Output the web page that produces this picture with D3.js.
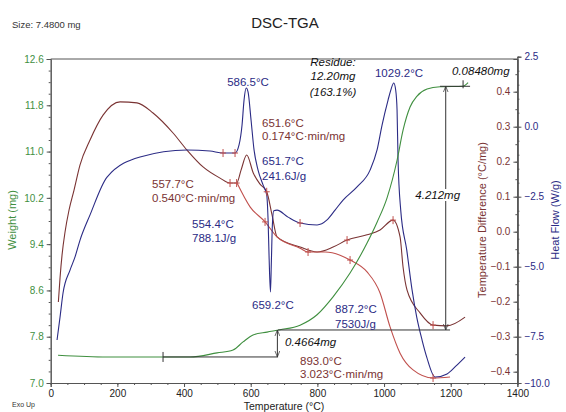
<!DOCTYPE html>
<html>
<head>
<meta charset="utf-8">
<script src="https://cdn.jsdelivr.net/npm/d3@7"></script>
<style>
  body { margin: 0; background: #fff; }
  svg { font-family: "Liberation Sans", Arial, sans-serif; }
</style>
</head>
<body>
<div id="chart"></div>
<script>
// curves: [temperature °C, value]
var weightCurve = [[22,7.48],[169,7.45],[337,7.45],[418,7.45],[499,7.52],[547,7.57],[577,7.71],[607,7.83],[649,7.88],[688,7.92],[748,8.00],[799,8.18],[847,8.49],[898,8.90],[949,9.42],[979,9.78],[1009,10.20],[1039,10.85],[1057,11.37],[1078,11.77],[1099,11.96],[1129,12.08],[1168,12.12],[1237,12.13],[1252,12.19]];

var heatFlowCurve = [[19,-7.68],[28,-6.8],[37,-5.94],[58,-5.12],[73,-4.65],[88,-4.05],[118,-3.15],[169,-1.8],[268,-1.08],[409,-0.83],[478,-0.87],[517,-0.94],[553,-0.94],[565,-0.65],[574,0.06],[580,0.95],[586.5,1.38],[592,1.24],[601,0.24],[610,-0.83],[622,-1.55],[637,-2.08],[648,-2.44],[652,-3.3],[655,-4.6],[659.2,-5.9],[662,-4.8],[665,-3.5],[669,-3.0],[679,-2.98],[712,-3.23],[748,-3.44],[799,-3.51],[829,-3.33],[853,-2.98],[877,-2.62],[919,-2.15],[958,-1.55],[979,-0.83],[994,0.06],[1012,0.95],[1020,1.3],[1029.2,1.56],[1035,1.3],[1039,0.6],[1042,-1.19],[1050,-2.98],[1068,-4.4],[1084,-5.83],[1098,-6.8],[1114,-7.68],[1128,-8.6],[1153,-9.68],[1189,-9.51],[1216,-9.08],[1243,-8.6]];

var tempDiffCurve = [[23,-0.201],[28,-0.132],[34,-0.067],[43,-0.001],[55,0.062],[70,0.119],[88,0.191],[118,0.262],[157,0.333],[208,0.371],[259,0.368],[307,0.339],[367,0.282],[409,0.233],[457,0.185],[508,0.153],[538,0.139],[557.7,0.139],[571,0.176],[588,0.219],[608,0.167],[628,0.136],[648,0.114],[664,0.048],[679,-0.015],[748,-0.044],[799,-0.058],[847,-0.044],[889,-0.024],[949,-0.009],[988,0.005],[1027,0.033],[1048,-0.015],[1057,-0.101],[1069,-0.167],[1108,-0.232],[1147,-0.267],[1189,-0.269],[1243,-0.244]];

var tempDiff2Curve = [[559,0.139],[598,0.071],[643,0.028],[679,-0.015],[748,-0.047],[772,-0.058],[823,-0.058],[868,-0.067],[898,-0.081],[949,-0.115],[988,-0.175],[1018,-0.272],[1048,-0.347],[1087,-0.395],[1147,-0.418],[1198,-0.415]];

// analysis markers (temperatures)
var hfMarks = [517, 553, 748];
var tdMarks = [538, 557.7, 648, 889, 1027, 1147];
var td2Marks = [643, 772, 898, 1147];

// weight step levels (mg)
var wLow = 7.450, wMid = 7.9164, wTop = 12.1284;

var tempTicks = [0, 200, 400, 600, 800, 1000, 1200, 1400];
var weightTicks = [7.0, 7.8, 8.6, 9.4, 10.2, 11.0, 11.8, 12.6];
var tdTicks = [-0.4, -0.3, -0.2, -0.1, 0.0, 0.1, 0.2, 0.3, 0.4];
var hfTicks = [-10.0, -7.5, -5.0, -2.5, 0.0, 2.5];

var W = 566, H = 412;
var pL = 50.7, pR = 517.4, pT = 59, pB = 383;

var green = "#3f8f3f", navy = "#2b2b85", maroon = "#7a3333", red = "#c0504d";

var svg = d3.select("#chart").append("svg")
    .attr("width", W).attr("height", H);

var x = d3.scaleLinear().domain([0, 1400]).range([pL, pR]);
var yW = d3.scaleLinear().domain([7.0, 12.6]).range([pB, pT]);
var yTD = d3.scaleLinear().domain([-0.4323, 0.4934]).range([pB, pT]);
var yHF = d3.scaleLinear().domain([-10, -7.5, 2.5]).range([pB, 336.7, 56.7]);

// frame
svg.append("line").attr("x1", pL).attr("x2", pR).attr("y1", pT).attr("y2", pT)
    .style("stroke", "#555").style("stroke-width", 1);

// axes
function minor(a, b, s) { return d3.range(a, b + s / 2, s); }

var xAxis = svg.append("g").attr("transform", "translate(0," + pB + ")")
    .call(d3.axisBottom(x).tickValues(tempTicks).tickSize(4).tickFormat(d3.format("d")));
svg.append("g").attr("transform", "translate(0," + pB + ")")
    .call(d3.axisBottom(x).tickValues(minor(0, 1400, 50)).tickSize(2).tickFormat(""));

var wAxis = svg.append("g").attr("transform", "translate(" + pL + ",0)")
    .call(d3.axisLeft(yW).tickValues(weightTicks).tickSize(4).tickFormat(d3.format(".1f")));
svg.append("g").attr("transform", "translate(" + pL + ",0)")
    .call(d3.axisLeft(yW).tickValues(minor(7.0, 12.6, 0.2)).tickSize(2).tickFormat(""));

var tdAxis = svg.append("g").attr("transform", "translate(" + pR + ",0)")
    .call(d3.axisLeft(yTD).tickValues(tdTicks).tickSize(4).tickFormat(d3.format(".1f")));
svg.append("g").attr("transform", "translate(" + pR + ",0)")
    .call(d3.axisLeft(yTD).tickValues(minor(-0.4, 0.45, 0.05)).tickSize(2).tickFormat(""));

var hfAxis = svg.append("g").attr("transform", "translate(" + pR + ",0)")
    .call(d3.axisRight(yHF).tickValues(hfTicks).tickSize(4).tickFormat(d3.format(".1f")));
svg.append("g").attr("transform", "translate(" + pR + ",0)")
    .call(d3.axisRight(yHF).tickValues(minor(-7.5, 2.5, 0.5)).tickSize(2).tickFormat(""));

svg.selectAll(".domain").style("stroke", "#555");
svg.selectAll(".tick line").style("stroke", "#555");
svg.selectAll(".tick text").style("font-size", "10px").style("font-family", "Liberation Sans, Arial, sans-serif");
xAxis.selectAll("text").style("fill", "#222");
wAxis.selectAll("text").style("fill", green);
tdAxis.selectAll("text").style("fill", maroon);
hfAxis.selectAll("text").style("fill", navy);

// curves
function draw(data, ys, color) {
    var line = d3.line().x(function(d) { return x(d[0]); }).y(function(d) { return ys(d[1]); })
        .curve(d3.curveMonotoneX);
    svg.append("path").datum(data).attr("d", line)
        .style("fill", "none").style("stroke", color).style("stroke-width", 1.1);
}
draw(tempDiffCurve, yTD, maroon);
draw(tempDiff2Curve, yTD, red);
draw(heatFlowCurve, yHF, navy);
draw(weightCurve, yW, green);

// markers
function valueAt(data, t) {
    for (var i = 1; i < data.length; i++) {
        if (data[i][0] >= t) {
            var a = data[i - 1], b = data[i];
            return a[1] + (b[1] - a[1]) * (t - a[0]) / (b[0] - a[0]);
        }
    }
    return data[data.length - 1][1];
}
function marks(data, ts, ys) {
    ts.forEach(function(t) {
        var px = x(t), py = ys(valueAt(data, t));
        svg.append("line").attr("x1", px).attr("x2", px).attr("y1", py - 4).attr("y2", py + 4)
            .style("stroke", red).style("stroke-width", 1);
        svg.append("line").attr("x1", px - 3).attr("x2", px + 3).attr("y1", py).attr("y2", py)
            .style("stroke", red).style("stroke-width", 1);
    });
}
marks(heatFlowCurve, hfMarks, yHF);
marks(tempDiffCurve, tdMarks, yTD);
marks(tempDiff2Curve, td2Marks, yTD);

// weight step annotation
var ink = "#333";
svg.append("line").attr("x1", x(337)).attr("x2", x(682)).attr("y1", yW(wLow)).attr("y2", yW(wLow)).style("stroke", ink);
svg.append("line").attr("x1", x(337)).attr("x2", x(337)).attr("y1", yW(wLow) - 5).attr("y2", yW(wLow) + 5).style("stroke", ink);
svg.append("line").attr("x1", x(682)).attr("x2", x(1198)).attr("y1", yW(wMid)).attr("y2", yW(wMid)).style("stroke", ink);
svg.append("line").attr("x1", x(1168)).attr("x2", x(1258)).attr("y1", yW(wTop)).attr("y2", yW(wTop)).style("stroke", ink);

var defs = svg.append("defs");
defs.append("marker").attr("id", "arr").attr("viewBox", "0 0 10 10").attr("refX", 10).attr("refY", 5)
    .attr("markerWidth", 6).attr("markerHeight", 6).attr("orient", "auto-start-reverse")
    .append("path").attr("d", "M0,1L10,5L0,9").style("fill", "none").style("stroke", ink).style("stroke-width", 1.2);

svg.append("line").attr("x1", x(680)).attr("x2", x(680)).attr("y1", yW(wLow)).attr("y2", yW(wMid))
    .style("stroke", ink).attr("marker-start", "url(#arr)").attr("marker-end", "url(#arr)");
svg.append("line").attr("x1", x(1185)).attr("x2", x(1185)).attr("y1", yW(wMid)).attr("y2", yW(wTop))
    .style("stroke", ink).attr("marker-start", "url(#arr)").attr("marker-end", "url(#arr)");
svg.append("line").attr("x1", x(1237)).attr("x2", x(1237)).attr("y1", yW(wTop) - 6).attr("y2", yW(wTop) + 2)
    .style("stroke", ink);

// texts
function txt(s, px, py, color, opts) {
    opts = opts || {};
    var t = svg.append("text").attr("x", px).attr("y", py).text(s)
        .style("fill", color).style("font-size", (opts.size || 11.5) + "px");
    if (opts.italic) t.style("font-style", "italic");
    if (opts.anchor) t.attr("text-anchor", opts.anchor);
    return t;
}
txt("Size:  7.4800 mg", 12, 28, "#333", {size: 9.5});
txt("DSC-TGA", 285, 28, "#222", {size: 15, anchor: "middle"});
txt("Exo Up", 12, 407, "#333", {size: 7});

txt("Residue:", 333, 66, "#111", {italic: true, anchor: "middle"});
txt("12.20mg", 333, 80, "#111", {italic: true, anchor: "middle"});
txt("(163.1%)", 333, 96, "#111", {italic: true, anchor: "middle"});
txt("0.08480mg", 452, 75, "#111", {italic: true});
var lbl = txt("4.212mg", x(1185) - 8, 199, "#111", {italic: true, anchor: "middle"});
var bb = lbl.node().getBBox();
svg.insert("rect", function() { return lbl.node(); }).attr("x", bb.x - 1).attr("y", bb.y).attr("width", bb.width + 2).attr("height", bb.height)
    .style("fill", "#fff");
txt("0.4664mg", 285, 346, "#111", {italic: true});

txt("586.5°C", 248, 86, navy, {anchor: "middle"});
txt("1029.2°C", 399, 77, navy, {anchor: "middle"});
txt("651.6°C", 262, 127, maroon);
txt("0.174°C·min/mg", 262, 140, maroon);
txt("651.7°C", 262, 165, navy);
txt("241.6J/g", 262, 180, navy);
txt("557.7°C", 152, 188, maroon);
txt("0.540°C·min/mg", 152, 202, maroon);
txt("554.4°C", 192, 228, navy);
txt("788.1J/g", 192, 242, navy);
txt("659.2°C", 252, 309, navy);
txt("887.2°C", 335, 313, navy);
txt("7530J/g", 335, 328, navy);
txt("893.0°C", 300, 365, maroon);
txt("3.023°C·min/mg", 300, 378, maroon);

// axis titles
txt("Temperature (°C)", (pL + pR) / 2, 410, "#222", {size: 10.5, anchor: "middle"});
txt("Weight (mg)", 0, 0, green, {size: 11, anchor: "middle"})
    .attr("transform", "translate(16,220) rotate(-90)");
txt("Temperature Difference (°C/mg)", 0, 0, maroon, {size: 11, anchor: "middle"})
    .attr("transform", "translate(486,220) rotate(-90)");
txt("Heat Flow (W/g)", 0, 0, navy, {size: 11, anchor: "middle"})
    .attr("transform", "translate(559,220) rotate(-90)");
</script>
</body>
</html>
